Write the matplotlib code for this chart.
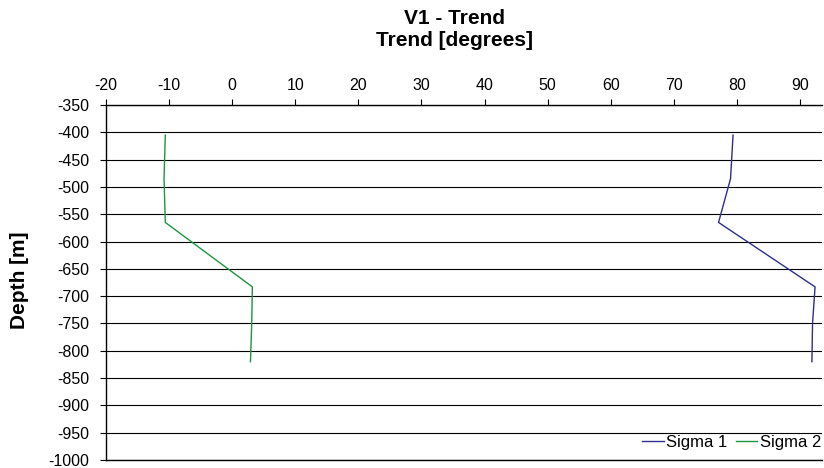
import matplotlib
matplotlib.use("Agg")
import matplotlib.pyplot as plt

plt.rcParams['font.family'] = ['Liberation Sans', 'DejaVu Sans']
plt.rcParams['axes.unicode_minus'] = False

depth = [-405, -485, -565, -683, -750, -820]
sigma1 = [79.4, 79.0, 77.1, 92.4, 92.0, 91.9]
sigma2 = [-10.6, -10.8, -10.6, 3.2, 3.1, 2.9]

x_ticks = [-20, -10, 0, 10, 20, 30, 40, 50, 60, 70, 80, 90]
y_ticks = list(range(-350, -1001, -50))

W, H = 824, 468
fig = plt.figure(figsize=(W / 100, H / 100), dpi=100)
ax = fig.add_axes([106 / W, 8 / H, 716 / W, 355 / H])

ax.plot(sigma1, depth, color='#2e2e8c', lw=1.0, label='Sigma 1')
ax.plot(sigma2, depth, color='#1a9641', lw=1.0, label='Sigma 2')

ax.set_xlim(-20, 93.5)
ax.set_ylim(-1000, -350)
ax.set_xticks(x_ticks)
ax.set_yticks(y_ticks)
ax.xaxis.tick_top()
ax.tick_params(axis='both', labelsize=11.5, length=4, width=0.8, direction='out')
ax.tick_params(axis='x', pad=5)
ax.tick_params(axis='y', pad=8)

ax.yaxis.grid(True, color='black', lw=0.8)
ax.set_axisbelow(True)
ax.spines['right'].set_visible(False)
for s in ['left', 'top', 'bottom']:
    ax.spines[s].set_linewidth(1.0)

# titles and axis labels
fig.text(455 / W, 1 - 19 / H, 'V1 - Trend', fontsize=15, fontweight='bold',
         ha='center', va='center')
fig.text(455 / W, 1 - 40 / H, 'Trend [degrees]', fontsize=15, fontweight='bold',
         ha='center', va='center')
fig.text(20 / W, 1 - 280 / H, 'Depth [m]', fontsize=15, fontweight='bold',
         ha='center', va='center', rotation=90)

leg = ax.legend(loc='lower right', ncol=2, frameon=False, fontsize=12,
                handlelength=1.3, handletextpad=0.15, columnspacing=0.5,
                borderaxespad=0.5, borderpad=0.1)
leg.set_bbox_to_anchor((1.013, 0.0), transform=ax.transAxes)

fig.savefig('out.png', dpi=100)
